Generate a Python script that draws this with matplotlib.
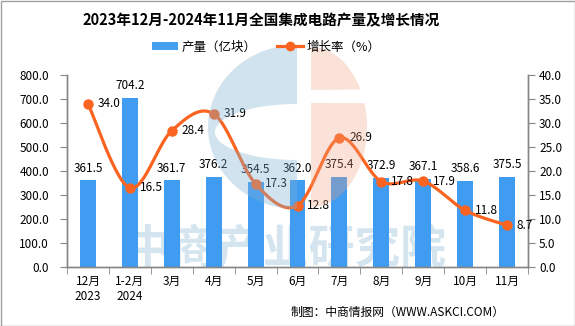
import numpy as np
import matplotlib
matplotlib.use('Agg')
import matplotlib.pyplot as plt
from matplotlib.patches import Polygon, Rectangle, Patch
from matplotlib.lines import Line2D
from matplotlib.ticker import FormatStrFormatter, MultipleLocator

plt.rcParams['font.family'] = ['Noto Sans CJK SC', 'DejaVu Sans']

months = ['12月\n2023', '1-2月\n2024', '3月', '4月', '5月', '6月',
          '7月', '8月', '9月', '10月', '11月']
output = [361.5, 704.2, 361.7, 376.2, 354.5, 362.0, 375.4, 372.9, 367.1, 358.6, 375.5]
growth = [34.0, 16.5, 28.4, 31.9, 17.3, 12.8, 26.9, 17.8, 17.9, 11.8, 8.7]

BAR_C = '#3f9cf0'
LINE_C = '#fa6420'
AXIS_C = '#868686'

W, H = 575, 326
fig = plt.figure(figsize=(W / 100, H / 100), dpi=100)


def smooth(xs, ys, aspect, n=30):
    # catmull-rom style bezier through the points, done in screen proportions
    p = np.column_stack([xs, np.asarray(ys, float) * aspect])
    ext = np.vstack([p[0], p, p[-1]])
    segs = []
    for i in range(len(p) - 1):
        p0, p1, p2, p3 = ext[i], ext[i + 1], ext[i + 2], ext[i + 3]
        c1 = p1 + (p2 - p0) / 6
        c2 = p2 - (p3 - p1) / 6
        t = np.linspace(0, 1, n)[:, None]
        seg = (1 - t) ** 3 * p1 + 3 * (1 - t) ** 2 * t * c1 + 3 * (1 - t) * t ** 2 * c2 + t ** 3 * p2
        segs.append(seg if i == 0 else seg[1:])
    seg = np.vstack(segs)
    return seg[:, 0], seg[:, 1] / aspect


# background layer: watermark text
back = fig.add_axes([0, 0, 1, 1], zorder=-1)
back.set_xlim(0, W)
back.set_ylim(H, 0)
back.axis('off')
back.text(286, 250, '中商产业研究院', fontsize=33, fontweight='bold',
          color='#d5e5f0', ha='center', va='center')

x0, x1, y0, y1 = 67, 528, 75, 267
ax = fig.add_axes([x0 / W, 1 - y1 / H, (x1 - x0) / W, (y1 - y0) / H])
ax.patch.set_visible(False)
x = np.arange(len(months))

ax.bar(x, output, width=0.38, color=BAR_C, zorder=2)
for xi, v in zip(x, output):
    ax.annotate('{:.1f}'.format(v), (xi, v), xytext=(0, 4), textcoords='offset points',
                ha='center', va='bottom', fontsize=8.5, color='black')

ax.set_xlim(-0.5, len(months) - 0.5)
ax.set_ylim(0, 800)
ax.yaxis.set_major_locator(MultipleLocator(100))
ax.yaxis.set_major_formatter(FormatStrFormatter('%.1f'))
ax.set_xticks(x)
ax.set_xticklabels(months, linespacing=1.2)
ax.set_xticks(np.arange(-0.5, len(months)), minor=True)
ax.tick_params(axis='x', which='major', length=0, pad=6, labelsize=8.5)
ax.tick_params(axis='x', which='minor', length=5, color=AXIS_C, direction='out')
ax.tick_params(axis='y', length=5, color=AXIS_C, direction='out', pad=8, labelsize=8.5)

ax2 = ax.twinx()
ax2.set_ylim(0, 40)
ax2.yaxis.set_major_locator(MultipleLocator(5))
ax2.yaxis.set_major_formatter(FormatStrFormatter('%.1f'))
ax2.tick_params(axis='y', length=5, color=AXIS_C, direction='out', pad=3, labelsize=8.5)

aspect = ((y1 - y0) / 40) / ((x1 - x0) / len(months))
sx, sy = smooth(x, growth, aspect)
ax2.plot(sx, sy, color=LINE_C, lw=2.3, solid_capstyle='round', zorder=3)
ax2.plot(x, growth, 'o', color=LINE_C, ms=6.5, zorder=4)
for xi, v in zip(x, growth):
    ax2.annotate('{:.1f}'.format(v), (xi, v), xytext=(7, 0), textcoords='offset points',
                 ha='left', va='center', fontsize=8.5, color='black', zorder=5)

for a in (ax, ax2):
    a.spines['top'].set_visible(False)
    for s in ('left', 'right', 'bottom'):
        a.spines[s].set_color(AXIS_C)
        a.spines[s].set_linewidth(1)

# translucent logo on top
top = fig.add_axes([0, 0, 1, 1], zorder=5)
top.set_xlim(0, W)
top.set_ylim(H, 0)
top.axis('off')
top.patch.set_visible(False)

cx, cy, rx, ry = 297, 127, 89, 82
icy, irx, iry = 132, 82, 28
t_out = np.linspace(np.pi / 2, 3 * np.pi / 2, 80)
t_in = t_out[::-1]
outer = np.column_stack([cx + rx * np.cos(t_out), cy - ry * np.sin(t_out)])
inner = np.column_stack([cx + irx * np.cos(t_in), icy - iry * np.sin(t_in)])
top.add_patch(Polygon(np.vstack([outer, inner]), closed=True,
                      facecolor='#7fb0d4', edgecolor='none', alpha=0.35))

pcx, pcy, prx, pry = 311, 127, 56, 80
gap_top, gap_bot = 90, 103
t = np.linspace(-np.pi / 2, np.pi / 2, 120)
half = np.column_stack([pcx + prx * np.cos(t), pcy - pry * np.sin(t)])
upper = half[half[:, 1] <= gap_top]
lower = half[half[:, 1] >= gap_bot]
top.add_patch(Polygon(np.vstack([[pcx, gap_top], upper]), closed=True,
                      facecolor='#f0a080', edgecolor='none', alpha=0.3))
top.add_patch(Polygon(np.vstack([lower, [pcx, gap_bot]]), closed=True,
                      facecolor='#f0a080', edgecolor='none', alpha=0.3))

fig.text(261.5 / W, 1 - 20 / H, '2023年12月-2024年11月全国集成电路产量及增长情况',
         ha='center', va='center', fontsize=10.5, fontweight='bold')

handles = [Patch(facecolor='#45a0f2', edgecolor='none'),
           Line2D([], [], color=LINE_C, lw=2.3, marker='o', ms=6)]
fig.legend(handles, ['产量（亿块）', '增长率（%）'], loc='center',
           bbox_to_anchor=(266 / W, 1 - 47 / H), ncol=2, frameon=False,
           fontsize=9, handlelength=2.1, handleheight=0.6, columnspacing=1.6,
           handletextpad=0.3)

fig.text(505 / W, 1 - 312 / H, '制图：中商情报网（WWW.ASKCI.COM）',
         ha='right', va='center', fontsize=8.5)

fig.add_artist(Rectangle((0.5 / W, 0.5 / H), 1 - 1 / W, 1 - 1 / H, transform=fig.transFigure,
                         fill=False, edgecolor='#a0a0a0', lw=1))

fig.savefig('out.png', dpi=100)
